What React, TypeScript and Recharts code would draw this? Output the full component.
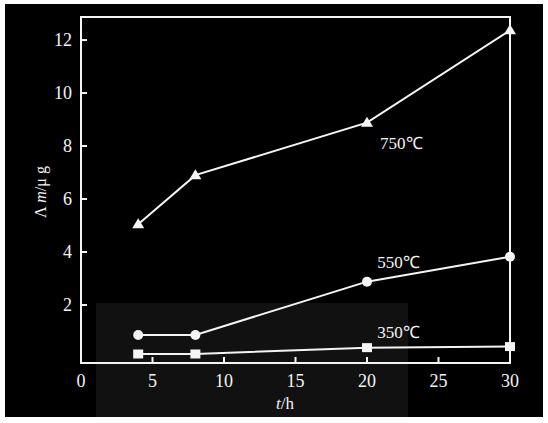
import { LineChart, Line, XAxis, YAxis, ReferenceArea, ReferenceDot } from 'recharts';

// exposure time (h)
const hours = [4, 8, 20, 30];
// mass gain (μg) at each temperature
const gain750 = [5.05, 6.9, 8.88, 12.37];
const gain550 = [0.87, 0.87, 2.88, 3.82];
const gain350 = [0.15, 0.15, 0.39, 0.43];

const xTicks = [0, 5, 10, 15, 20, 25, 30];
const yTicks = [2, 4, 6, 8, 10, 12];

const curveLabels = [
  { text: '750℃', x: 22.4, y: 8.1 },
  { text: '550℃', x: 22.2, y: 3.62 },
  { text: '350℃', x: 22.2, y: 1.0 },
];

const FONT = '"Liberation Serif", "Times New Roman", serif';
const INK = '#f4f4f4';

const chartData = hours.map((h, i) => ({
  t: h,
  g750: gain750[i],
  g550: gain550[i],
  g350: gain350[i],
}));

const Triangle = (props: any) => {
  const { cx, cy } = props;
  if (cx == null || cy == null) return null;
  return <polygon points={`${cx},${cy - 6} ${cx - 6},${cy + 4} ${cx + 6},${cy + 4}`} fill={INK} />;
};

const Circle = (props: any) => {
  const { cx, cy } = props;
  if (cx == null || cy == null) return null;
  return <circle cx={cx} cy={cy} r={5} fill={INK} />;
};

const Square = (props: any) => {
  const { cx, cy } = props;
  if (cx == null || cy == null) return null;
  return <rect x={cx - 5} y={cy - 4.5} width={10} height={9} fill={INK} />;
};

export default function App() {
  const tickStyle = { fontSize: 18, fill: INK, fontFamily: FONT };

  return (
    <div style={styles.page}>
      <div style={styles.black} />
      <div style={styles.scanPatch} />
      <div style={styles.chartBox}>
        <LineChart
          width={548}
          height={423}
          data={chartData}
          margin={{ top: 17, right: 38, left: 41, bottom: 30 }}
        >
          <XAxis
            dataKey="t"
            type="number"
            domain={[0, 30]}
            ticks={xTicks}
            tick={tickStyle}
            stroke={INK}
            strokeWidth={2}
            tickSize={-6}
            tickMargin={17}
            height={30}
            label={{
              content: () => (
                <text x={285} y={409} fill={INK} fontFamily={FONT} fontSize={17} textAnchor="middle">
                  <tspan fontStyle="italic">t</tspan>/h
                </text>
              ),
            }}
          />
          <YAxis
            type="number"
            domain={[-0.19, 12.87]}
            ticks={yTicks}
            tick={tickStyle}
            stroke={INK}
            strokeWidth={2}
            tickSize={-6}
            tickMargin={15}
            width={40}
            label={{
              content: () => (
                <text
                  x={42}
                  y={192}
                  fill={INK}
                  fontFamily={FONT}
                  fontSize={16}
                  textAnchor="middle"
                  dominantBaseline="middle"
                  transform="rotate(-90 42 192)"
                >
                  Λ <tspan fontStyle="italic">m</tspan>/μ g
                </text>
              ),
            }}
          />
          <ReferenceArea x1={0} x2={30} y1={-0.19} y2={12.87} fill="none" stroke={INK} strokeWidth={2} />
          <Line dataKey="g750" stroke={INK} strokeWidth={2} dot={<Triangle />} isAnimationActive={false} />
          <Line dataKey="g550" stroke={INK} strokeWidth={2} dot={<Circle />} isAnimationActive={false} />
          <Line dataKey="g350" stroke={INK} strokeWidth={2} dot={<Square />} isAnimationActive={false} />
          {curveLabels.map((c) => (
            <ReferenceDot
              key={c.text}
              x={c.x}
              y={c.y}
              r={0}
              stroke="none"
              label={{ value: c.text, position: 'center', fill: INK, fontSize: 17, fontFamily: FONT }}
            />
          ))}
        </LineChart>
      </div>
    </div>
  );
}

const styles: Record<string, React.CSSProperties> = {
  page: {
    position: 'fixed',
    left: 0,
    top: 0,
    width: 548,
    height: 423,
    backgroundColor: '#fff',
    overflow: 'hidden',
  },
  black: {
    position: 'absolute',
    left: 5,
    top: 4,
    width: 538,
    height: 413,
    backgroundColor: '#000',
  },
  scanPatch: {
    position: 'absolute',
    left: 96,
    top: 303,
    width: 312,
    height: 114,
    backgroundColor: '#111',
  },
  chartBox: {
    position: 'absolute',
    left: 0,
    top: 0,
  },
};
